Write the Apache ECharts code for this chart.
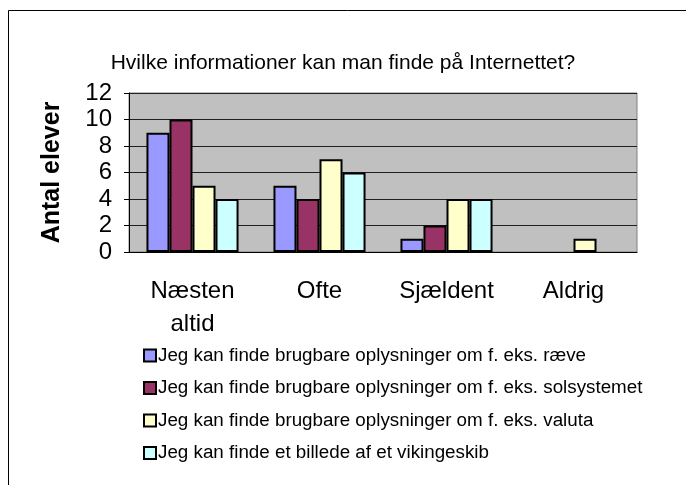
<!DOCTYPE html>
<html>
<head>
<meta charset="utf-8">
<script src="https://cdn.jsdelivr.net/npm/echarts@6/dist/echarts.min.js"></script>
<style>
    html, body { margin: 0; padding: 0; background: #fff; }
    #chart { width: 686px; height: 485px; }
</style>
</head>
<body>
<div id="chart"></div>
<script>
// 数据
const categories = ['Næsten\naltid', 'Ofte', 'Sjældent', 'Aldrig'];
const seriesNames = [
    'Jeg kan finde brugbare oplysninger om f. eks. ræve',
    'Jeg kan finde brugbare oplysninger om f. eks. solsystemet',
    'Jeg kan finde brugbare oplysninger om f. eks. valuta',
    'Jeg kan finde et billede af et vikingeskib'
];
const raeve = [9, 5, 1, 0];
const solsystemet = [10, 4, 2, 0];
const valuta = [5, 7, 4, 1];
const vikingeskib = [4, 6, 4, 0];
const yTicks = [0, 2, 4, 6, 8, 10, 12];

const colors = ['#9999FF', '#993366', '#FFFFCC', '#CCFFFF'];
const values = [raeve, solsystemet, valuta, vikingeskib];
const font = 'Liberation Sans, Arial, sans-serif';

const chart = echarts.init(document.getElementById('chart'));
const option = {
    animation: false,
    textStyle: { fontFamily: font },
    title: {
        text: 'Hvilke informationer kan man finde på Internettet?',
        left: 'center',
        top: 48,
        textStyle: { fontSize: 21, fontWeight: 'normal', color: '#000', fontFamily: font }
    },
    graphic: [{
        type: 'rect',
        shape: { x: 8.5, y: 10.5, width: 700, height: 500 },
        style: { fill: 'none', stroke: '#000', lineWidth: 1 },
        silent: true
    }],
    legend: {
        orient: 'vertical',
        left: 143,
        top: 346,
        padding: 0,
        itemWidth: 12,
        itemHeight: 12,
        itemGap: 13.5,
        icon: 'rect',
        data: seriesNames,
        textStyle: { fontSize: 18.8, color: '#000', fontFamily: font, padding: [0, 0, 0, -3] }
    },
    grid: {
        left: 129,
        right: 49,
        top: 93,
        height: 159,
        show: true,
        backgroundColor: '#C0C0C0',
        borderColor: '#808080',
        borderWidth: 1
    },
    xAxis: {
        type: 'category',
        data: categories,
        axisLine: { lineStyle: { color: '#000', width: 1 } },
        axisTick: { length: 5, lineStyle: { color: '#000' } },
        axisLabel: { fontSize: 24, lineHeight: 33, color: '#000', margin: 23, interval: 0 }
    },
    yAxis: {
        type: 'value',
        min: yTicks[0],
        max: yTicks[yTicks.length - 1],
        interval: 2,
        name: 'Antal elever',
        nameLocation: 'middle',
        nameRotate: 90,
        nameGap: 64,
        nameTextStyle: { fontSize: 25, fontWeight: 'bold', color: '#000' },
        axisLine: { show: true, lineStyle: { color: '#000' } },
        axisTick: { show: true, length: 5, lineStyle: { color: '#000' } },
        axisLabel: { fontSize: 24, color: '#000', margin: 17 },
        splitLine: { lineStyle: { color: '#202020', width: 1 } }
    },
    series: seriesNames.map(function (name, i) {
        return {
            name: name,
            type: 'bar',
            // 值为 0 的柱子不画边框（与原图一致）
            data: values[i].map(function (v) {
                return v === 0 ? { value: v, itemStyle: { borderWidth: 0 } } : v;
            }),
            barGap: '0%',
            barCategoryGap: '27.5%',
            itemStyle: { color: colors[i], borderColor: '#000', borderWidth: 2 }
        };
    })
};
chart.setOption(option);
</script>
</body>
</html>
